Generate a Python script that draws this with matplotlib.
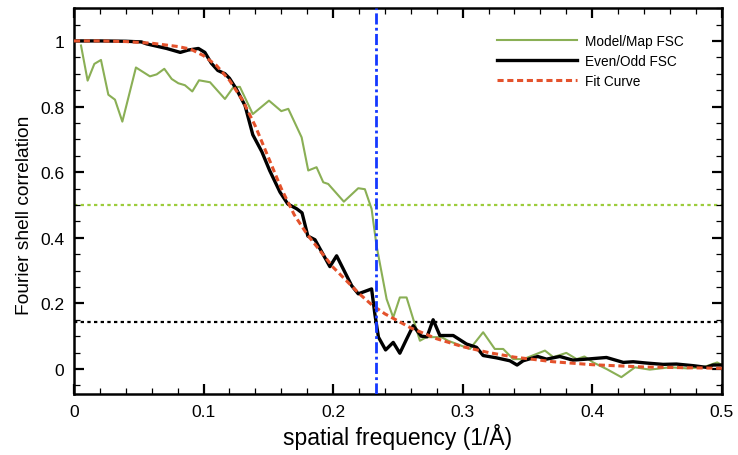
import numpy as np
import matplotlib
matplotlib.use("Agg")
import matplotlib.pyplot as plt
from matplotlib.ticker import MultipleLocator

plt.rcParams['font.family'] = ['Liberation Sans', 'DejaVu Sans']

# Model/Map FSC (green)
model_x = [0.0054, 0.0105, 0.0157, 0.0208, 0.0265, 0.0316, 0.0373, 0.0478, 0.0586, 0.0638,
           0.0697, 0.0754, 0.0805, 0.0856, 0.0913, 0.0965, 0.105, 0.1165, 0.123, 0.128,
           0.138, 0.1505, 0.160, 0.1654, 0.1757, 0.1808, 0.1872, 0.1924, 0.1962, 0.2083,
           0.2194, 0.2245, 0.2297, 0.2335, 0.2413, 0.2464, 0.2515, 0.2567, 0.267, 0.272,
           0.2836, 0.2888, 0.3056, 0.3158, 0.3248, 0.3313, 0.339, 0.347, 0.3635, 0.370,
           0.380, 0.388, 0.394, 0.4007, 0.411, 0.4225, 0.433, 0.4444, 0.460, 0.4727,
           0.4856, 0.4965, 0.500]
model_y = [0.986, 0.879, 0.930, 0.942, 0.836, 0.821, 0.754, 0.919, 0.892, 0.898,
           0.915, 0.884, 0.871, 0.865, 0.846, 0.880, 0.874, 0.823, 0.859, 0.860,
           0.777, 0.818, 0.786, 0.793, 0.706, 0.605, 0.615, 0.569, 0.564, 0.510,
           0.551, 0.548, 0.488, 0.376, 0.213, 0.157, 0.218, 0.218, 0.086, 0.097,
           0.097, 0.086, 0.061, 0.112, 0.061, 0.061, 0.030, 0.030, 0.056, 0.036,
           0.049, 0.030, 0.038, 0.020, 0.000, -0.025, 0.005, -0.002, 0.005, 0.002,
           0.005, 0.020, 0.012]

# Even/Odd FSC (black)
eo_x = [0.0, 0.02, 0.04, 0.052, 0.056, 0.0715, 0.082, 0.088, 0.096, 0.101,
        0.106, 0.111, 0.1165, 0.120, 0.1255, 0.132, 0.138, 0.145, 0.151, 0.159,
        0.165, 0.172, 0.176, 0.1805, 0.186, 0.1975, 0.2027, 0.2143, 0.2194, 0.2297,
        0.2323, 0.235, 0.2405, 0.2464, 0.2515, 0.2567, 0.2618, 0.268, 0.2725, 0.2772,
        0.2824, 0.2927, 0.303, 0.3107, 0.3158, 0.326, 0.3364, 0.342, 0.3467, 0.358,
        0.3647, 0.375, 0.385, 0.3956, 0.411, 0.424, 0.4316, 0.442, 0.4547, 0.465,
        0.478, 0.488, 0.4933, 0.500]
eo_y = [1.0, 1.0, 0.999, 0.997, 0.991, 0.977, 0.965, 0.972, 0.977, 0.965,
        0.932, 0.910, 0.900, 0.886, 0.852, 0.803, 0.714, 0.662, 0.605, 0.539,
        0.503, 0.488, 0.476, 0.405, 0.394, 0.312, 0.345, 0.254, 0.229, 0.244,
        0.165, 0.097, 0.058, 0.081, 0.048, 0.091, 0.132, 0.100, 0.098, 0.150,
        0.102, 0.102, 0.076, 0.066, 0.041, 0.034, 0.025, 0.012, 0.025, 0.038,
        0.030, 0.038, 0.027, 0.030, 0.035, 0.020, 0.022, 0.018, 0.014, 0.015,
        0.010, 0.005, 0.012, 0.012]

# Fit curve (red dashed)
fit_x = [0.0, 0.02, 0.04, 0.06, 0.08, 0.09, 0.10, 0.11, 0.12, 0.13,
         0.14, 0.15, 0.16, 0.17, 0.18, 0.19, 0.20, 0.21, 0.22, 0.23,
         0.24, 0.26, 0.28, 0.30, 0.32, 0.34, 0.37, 0.40, 0.44, 0.50]
fit_y = [1.0, 1.0, 0.998, 0.993, 0.983, 0.975, 0.955, 0.925, 0.88, 0.82,
         0.74, 0.645, 0.55, 0.47, 0.41, 0.36, 0.31, 0.27, 0.23, 0.195,
         0.168, 0.125, 0.092, 0.068, 0.05, 0.036, 0.022, 0.013, 0.006, 0.002]

thresh_model = 0.5
thresh_eo = 0.143
resolution_x = 0.233

fig = plt.figure(figsize=(7.38, 4.56), dpi=100)
ax = fig.add_axes([0.1003, 0.134, 0.8777, 0.846])

ax.axhline(thresh_model, color="#9ccc3c", lw=1.6, ls=(0, (1.5, 1.5)), zorder=1)
ax.axhline(thresh_eo, color="black", lw=1.6, ls=(0, (1.5, 1.5)), zorder=1)
ax.plot(model_x, model_y, color="#8aaf55", lw=1.5, label="Model/Map FSC", zorder=2)
ax.plot(eo_x, eo_y, color="black", lw=2.4, label="Even/Odd FSC", zorder=3)
ax.plot(fit_x, fit_y, color="#e4522c", lw=2.2, ls=(0, (2.0, 1.2)), label="Fit Curve", zorder=4)
ax.axvline(resolution_x, color="#1438ff", lw=2.0, ls=(0, (4, 1.2, 1, 1.2)), zorder=5)

ax.set_xlim(0, 0.5)
ax.set_ylim(-0.076, 1.1)
ax.xaxis.set_major_locator(MultipleLocator(0.1))
ax.xaxis.set_minor_locator(MultipleLocator(0.02))
ax.yaxis.set_major_locator(MultipleLocator(0.2))
ax.yaxis.set_minor_locator(MultipleLocator(0.05))
fmt = plt.FuncFormatter(lambda v, p: "0" if abs(v) < 1e-9 else "%g" % v)
ax.xaxis.set_major_formatter(fmt)
ax.yaxis.set_major_formatter(fmt)
ax.tick_params(which="both", direction="in", top=True, right=True, labelsize=12.5, pad=7)
ax.tick_params(which="major", length=7, width=1.6)
ax.tick_params(which="minor", length=4, width=0.9)
for s in ax.spines.values():
    s.set_linewidth(1.8)

ax.set_xlabel("spatial frequency (1/Å)", fontsize=16.5, labelpad=3)
ax.set_ylabel("Fourier shell correlation", fontsize=13.8, labelpad=6)
ax.yaxis.set_label_coords(-0.063, 0.466)

ax.legend(loc="center left", frameon=False, fontsize=9.8, handlelength=5.9,
          handletextpad=0.6, labelspacing=0.45, borderpad=0, borderaxespad=0,
          bbox_to_anchor=(0.653, 0.863))

fig.savefig("out.png", dpi=100)
